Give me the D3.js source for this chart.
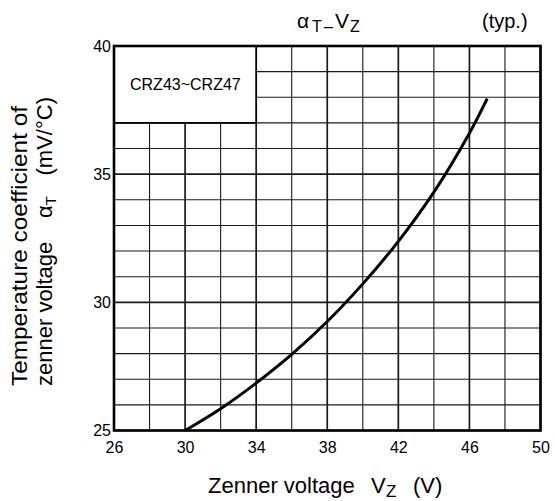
<!DOCTYPE html>
<html>
<head>
<meta charset="utf-8">
<script src="https://d3js.org/d3.v7.min.js"></script>
<style>
    body { margin: 0; background: #fff; }
    text { font-family: "Liberation Sans", Arial, sans-serif; fill: #000; }
</style>
</head>
<body>
<div id="chart"></div>
<script>
// curve
var zenerVoltage = [30, 32, 34, 36, 38, 40, 42, 44, 46, 47];
var tempCoeff = [25.0, 25.85, 26.85, 27.97, 29.25, 30.72, 32.38, 34.3, 36.6, 37.95];

// axis ticks
var xTickLabels = [26, 30, 34, 38, 42, 46, 50];
var yTickLabels = [25, 30, 35, 40];
var xGrid = d3.range(26, 51, 2);
var yGrid = d3.range(25, 41, 1);

var partName = "CRZ43~CRZ47";

var width = 555, height = 501;
var margin = {top: 46, right: 14.5, bottom: 70.5, left: 114};

var svg = d3.select("#chart").append("svg")
    .attr("width", width)
    .attr("height", height);

var xScale = d3.scaleLinear()
    .domain([26, 50])
    .range([margin.left, width - margin.right]);

var yScale = d3.scaleLinear()
    .domain([25, 40])
    .range([height - margin.bottom, margin.top]);

// grid lines, heavier every 4 V and every 5 mV/°C
var grid = svg.append("g").attr("class", "grid");

grid.selectAll(".vline")
    .data(xGrid)
    .enter().append("line")
    .attr("x1", function (d) { return xScale(d); })
    .attr("x2", function (d) { return xScale(d); })
    .attr("y1", yScale(25))
    .attr("y2", yScale(40))
    .attr("stroke", "#1a1a1a")
    .attr("stroke-width", function (d) { return (d - 26) % 4 === 0 ? 1.7 : 1.1; });

grid.selectAll(".hline")
    .data(yGrid)
    .enter().append("line")
    .attr("y1", function (d) { return yScale(d); })
    .attr("y2", function (d) { return yScale(d); })
    .attr("x1", xScale(26))
    .attr("x2", xScale(50))
    .attr("stroke", "#1a1a1a")
    .attr("stroke-width", function (d) { return d % 5 === 0 ? 1.7 : 1.1; });

// label box in the top left corner covers the grid
svg.append("rect")
    .attr("x", xScale(26))
    .attr("y", yScale(40))
    .attr("width", xScale(34) - xScale(26))
    .attr("height", yScale(37) - yScale(40))
    .attr("fill", "#fff")
    .attr("stroke", "#000")
    .attr("stroke-width", 1.8);

svg.append("text")
    .attr("x", 130)
    .attr("y", 89.5)
    .style("font-size", "16px")
    .text(partName);

// the curve
var points = zenerVoltage.map(function (v, i) { return [v, tempCoeff[i]]; });

var line = d3.line()
    .x(function (d) { return xScale(d[0]); })
    .y(function (d) { return yScale(d[1]); })
    .curve(d3.curveCatmullRom);

svg.append("path")
    .datum(points)
    .attr("d", line)
    .attr("fill", "none")
    .attr("stroke", "#000")
    .attr("stroke-width", 3);

// frame
svg.append("rect")
    .attr("x", xScale(26))
    .attr("y", yScale(40))
    .attr("width", xScale(50) - xScale(26))
    .attr("height", yScale(25) - yScale(40))
    .attr("fill", "none")
    .attr("stroke", "#000")
    .attr("stroke-width", 2.6);

// axes (labels only)
var xAxis = svg.append("g")
    .attr("transform", "translate(0," + yScale(25) + ")")
    .call(d3.axisBottom(xScale).tickValues(xTickLabels).tickSize(0).tickPadding(11));

var yAxis = svg.append("g")
    .attr("transform", "translate(" + xScale(26) + ",0)")
    .call(d3.axisLeft(yScale).tickValues(yTickLabels).tickSize(0).tickPadding(3));

[xAxis, yAxis].forEach(function (ax) {
    ax.attr("font-size", 16).attr("font-family", "'Liberation Sans', Arial, sans-serif");
    ax.select(".domain").remove();
    ax.selectAll("text").attr("fill", "#000");
});

// title
var title = svg.append("text")
    .attr("y", 28)
    .style("font-size", "21px");
title.append("tspan").attr("x", 297).text("α");
title.append("tspan").attr("x", 312).attr("dy", 4).style("font-size", "16px").text("T");
title.append("tspan").attr("x", 324).style("font-size", "16px").text("–");
title.append("tspan").attr("x", 335).attr("dy", -4).text("V");
title.append("tspan").attr("x", 350).attr("dy", 4).style("font-size", "16px").text("Z");

svg.append("text")
    .attr("x", 482)
    .attr("y", 28)
    .style("font-size", "20px")
    .text("(typ.)");

// x axis title
var xTitle = svg.append("text")
    .attr("y", 492.5)
    .style("font-size", "22px");
xTitle.append("tspan").attr("x", 208).text("Zenner voltage");
xTitle.append("tspan").attr("x", 371).text("V");
xTitle.append("tspan").attr("x", 386).attr("dy", 4).style("font-size", "17px").text("Z");
xTitle.append("tspan").attr("x", 413).attr("dy", -4).text("(V)");

// y axis title, two rotated lines
svg.append("text")
    .attr("transform", "translate(27,0) rotate(-90)")
    .attr("x", -386)
    .attr("textLength", 280)
    .attr("lengthAdjust", "spacingAndGlyphs")
    .style("font-size", "22px")
    .text("Temperature coefficient of");

var yTitle = svg.append("g")
    .attr("transform", "translate(52,0) rotate(-90)");

yTitle.append("text")
    .attr("x", -386)
    .style("font-size", "22px")
    .text("zenner voltage");

var alphaT = yTitle.append("text")
    .attr("x", -218)
    .style("font-size", "22px");
alphaT.append("tspan").text("α");
alphaT.append("tspan").attr("dy", 4).style("font-size", "15px").text("T");

yTitle.append("text")
    .attr("x", -97)
    .attr("text-anchor", "end")
    .style("font-size", "22px")
    .text("(mV/°C)");
</script>
</body>
</html>
